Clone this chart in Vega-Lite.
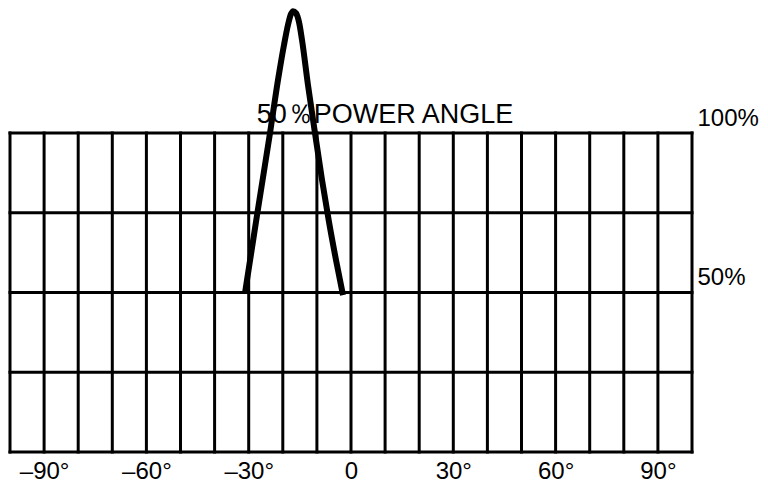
{
  "$schema": "https://vega.github.io/schema/vega-lite/v6.json",
  "width": 682,
  "height": 319,
  "autosize": {"type": "none"},
  "padding": {"left": 10, "top": 133, "right": 76, "bottom": 45},
  "background": "white",
  "config": {"view": {"stroke": null}, "font": "Liberation Sans"},
  "datasets": {
    "vgrid": [
      {"x": -100}, {"x": -90}, {"x": -80}, {"x": -70}, {"x": -60}, {"x": -50}, {"x": -40},
      {"x": -30}, {"x": -20}, {"x": -10}, {"x": 0}, {"x": 10}, {"x": 20}, {"x": 30},
      {"x": 40}, {"x": 50}, {"x": 60}, {"x": 70}, {"x": 80}, {"x": 90}, {"x": 100}
    ],
    "hgrid": [{"y": 0}, {"y": 25}, {"y": 50}, {"y": 75}, {"y": 100}],
    "curve": [
      {"angle": -31.09, "power": 49.8},
      {"angle": -27.42, "power": 75.2},
      {"angle": -23.75, "power": 100},
      {"angle": -21.41, "power": 116.6},
      {"angle": -19.65, "power": 127.6},
      {"angle": -18.48, "power": 133.9},
      {"angle": -17.6, "power": 137.3},
      {"angle": -17.0, "power": 138.2},
      {"angle": -16.13, "power": 137.6},
      {"angle": -15.25, "power": 134.8},
      {"angle": -14.37, "power": 129.2},
      {"angle": -12.61, "power": 115.0},
      {"angle": -10.56, "power": 100},
      {"angle": -8.5, "power": 85.3},
      {"angle": -6.45, "power": 72.1},
      {"angle": -4.4, "power": 60.2},
      {"angle": -2.35, "power": 49.2}
    ],
    "label": [{"angle": 10, "power": 105.5, "text": "50％POWER ANGLE"}]
  },
  "layer": [
    {
      "data": {"name": "vgrid"},
      "mark": {"type": "rule", "color": "black", "strokeWidth": 3, "strokeCap": "square"},
      "encoding": {
        "x": {"field": "x", "type": "quantitative", "scale": {"domain": [-100, 100], "nice": false},
          "axis": {"values": [-90, -60, -30, 0, 30, 60, 90], "title": null, "domain": false, "ticks": false, "grid": false,
            "labelExpr": "datum.value == 0 ? '0' : (datum.value < 0 ? '–' + abs(datum.value) + '°' : datum.value + '°')",
            "labelFontSize": 24, "labelColor": "black", "labelPadding": 7, "labelFont": "Liberation Sans"}},
        "y": {"datum": 0, "type": "quantitative", "scale": {"domain": [0, 100], "nice": false}},
        "y2": {"datum": 100}
      }
    },
    {
      "data": {"name": "hgrid"},
      "mark": {"type": "rule", "color": "black", "strokeWidth": 3, "strokeCap": "square"},
      "encoding": {
        "y": {"field": "y", "type": "quantitative",
          "axis": {"orient": "right", "values": [50, 100], "title": null, "domain": false, "ticks": false, "grid": false,
            "labelExpr": "datum.value + '%'", "labelFontSize": 24, "labelColor": "black", "labelPadding": 5,
            "labelOffset": -15, "labelBaseline": "middle", "labelAlign": "left", "labelFont": "Liberation Sans"}},
        "x": {"datum": -100, "type": "quantitative"},
        "x2": {"datum": 100}
      }
    },
    {
      "data": {"name": "label"},
      "mark": {"type": "text", "fontSize": 27, "color": "black", "baseline": "middle", "align": "center", "font": "Liberation Sans"},
      "encoding": {
        "x": {"field": "angle", "type": "quantitative"},
        "y": {"field": "power", "type": "quantitative"},
        "text": {"field": "text"}
      }
    },
    {
      "data": {"name": "curve"},
      "mark": {"type": "line", "color": "black", "strokeWidth": 6, "interpolate": "monotone", "clip": false, "strokeJoin": "round"},
      "encoding": {
        "x": {"field": "angle", "type": "quantitative"},
        "y": {"field": "power", "type": "quantitative"},
        "order": {"field": "angle"}
      }
    }
  ]
}
